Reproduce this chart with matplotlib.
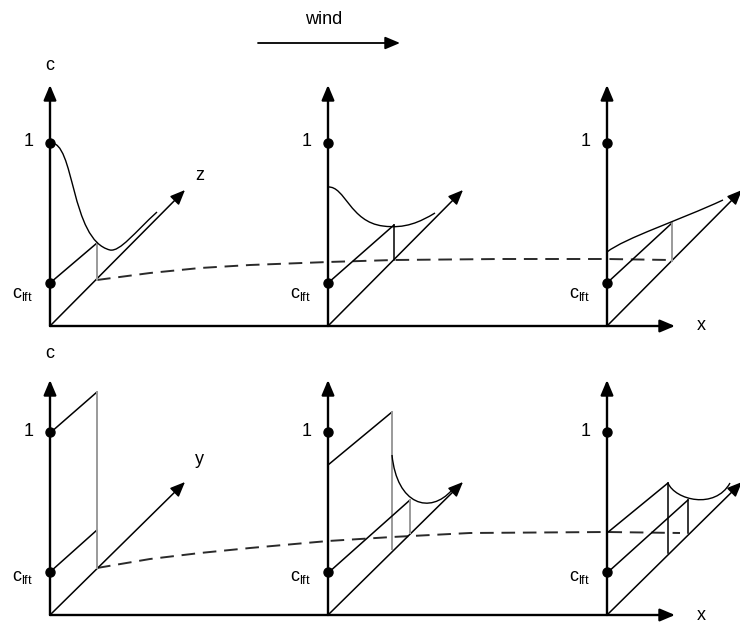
import matplotlib.pyplot as plt
from matplotlib.path import Path
from matplotlib.patches import PathPatch, FancyArrowPatch

plt.rcParams['font.family'] = ['Liberation Sans', 'DejaVu Sans']
plt.rcParams['mathtext.fontset'] = 'custom'
plt.rcParams['mathtext.rm'] = 'Liberation Sans'
plt.rcParams['mathtext.it'] = 'Liberation Sans'

# schematic coordinates (pixels, y grows downwards)
panel_x = [50, 328, 607]          # vertical c axes
row_y = [326, 615]                # base line (x axis) of each row
axis_top = [85, 380]              # tip of the c axis
level_one = 183                   # height of c = 1 above the base
level_lft = 43                    # height of c_lft above the base
diag_tip = [(135, 136), (135, 133)]
x_axis_end = 675
depth_label = ['z', 'y']

# far-field concentration along x (dashed)
top_dash_x = [97, 150, 200, 250, 328, 394, 500, 607, 670]
top_dash_y = [280, 273, 268, 265, 262, 260, 259, 259, 260]
bot_dash_x = [97, 150, 200, 250, 328, 392, 470, 607, 680]
bot_dash_y = [568, 559, 553, 548, 541, 537, 533, 532, 533]

# straight profile pieces: (x0, y0, x1, y1, grey?)
top_lines = [
    (50, 283, 97, 243, False), (97, 243, 97, 280, True),
    (328, 283, 394, 225, False), (394, 225, 394, 260, False),
    (607, 283, 672, 223, False), (672, 223, 672, 261, True),
]
bot_lines = [
    (50, 433, 97, 392, False), (50, 572, 97, 530, False), (97, 392, 97, 568, True),
    (328, 465, 392, 412, False), (392, 412, 392, 549, True),
    (328, 573, 410, 500, False), (410, 500, 410, 533, True),
    (607, 533, 668, 483, False), (668, 483, 668, 553, False),
    (607, 573, 688, 500, False), (688, 500, 688, 533, False),
]

# concentration profiles as cubic bezier control points
top_curves = [
    [(50, 143), (75, 140), (70, 240), (110, 250), (120, 252), (135, 232), (157, 212)],
    [(328, 187), (345, 186), (350, 222), (383, 226), (405, 229), (420, 222), (435, 213)],
    [(607, 252), (625, 238), (680, 220), (723, 200)],
]
bot_curves = [
    [(392, 455), (397, 505), (430, 515), (452, 490)],
    [(668, 483), (675, 500), (715, 510), (730, 483)],
]

fig = plt.figure(figsize=(7.4, 6.24), dpi=100)
ax = fig.add_axes([0, 0, 1, 1])
ax.set_xlim(0, 740)
ax.set_ylim(624, 0)
ax.axis('off')

K = 'black'
G = '#9a9a9a'


def arrow(p0, p1, lw):
    ax.add_patch(FancyArrowPatch(p0, p1, arrowstyle='-|>,head_length=0.9,head_width=0.38',
                                 mutation_scale=10, lw=lw, color=K,
                                 shrinkA=0, shrinkB=0, zorder=3))


def bezier(pts, lw=1.0):
    codes = [Path.MOVETO] + [Path.CURVE4] * (len(pts) - 1)
    ax.add_patch(PathPatch(Path(pts, codes), fc='none', ec=K, lw=lw, zorder=4))


for r, oy in enumerate(row_y):
    # x axis
    arrow((panel_x[0], oy), (x_axis_end, oy), 1.7)
    ax.text(701, oy, 'x', fontsize=13, ha='center', va='center')
    for i, ox in enumerate(panel_x):
        arrow((ox, oy), (ox, axis_top[r]), 1.7)
        dx, dy = diag_tip[r]
        arrow((ox, oy), (ox + dx, oy - dy), 1.1)
        ax.plot([ox, ox], [oy - level_one, oy - level_lft], 'o', ms=6.5, color=K, zorder=5)
        ax.text(ox - 16, oy - level_one - 1, '1', fontsize=13, ha='right', va='center')
        base = 298 if r == 0 else 581
        ax.text(ox - 17, base, r'c$_{\mathrm{lft}}$', fontsize=13, ha='right', va='baseline')
    ax.text(panel_x[0], 66 if r == 0 else 353, 'c', fontsize=13, ha='center', va='center')

ax.text(200, 175, depth_label[0], fontsize=13, ha='center', va='center')
ax.text(199, 460, depth_label[1], fontsize=13, ha='center', va='center')

for x0, y0, x1, y1, grey in top_lines + bot_lines:
    ax.plot([x0, x1], [y0, y1], color=G if grey else K, lw=1.4 if grey else 1.1, zorder=3)

for pts in top_curves + bot_curves:
    bezier(pts)

for xs, ys in [(top_dash_x, top_dash_y), (bot_dash_x, bot_dash_y)]:
    ax.plot(xs, ys, color='#2a2a2a', lw=1.4, linestyle=(0, (7, 4)), zorder=2)

# wind direction
arrow((258, 43), (400, 43), 1.3)
ax.text(324, 19, 'wind', fontsize=13, ha='center', va='center')

fig.savefig('out.png', dpi=100)
